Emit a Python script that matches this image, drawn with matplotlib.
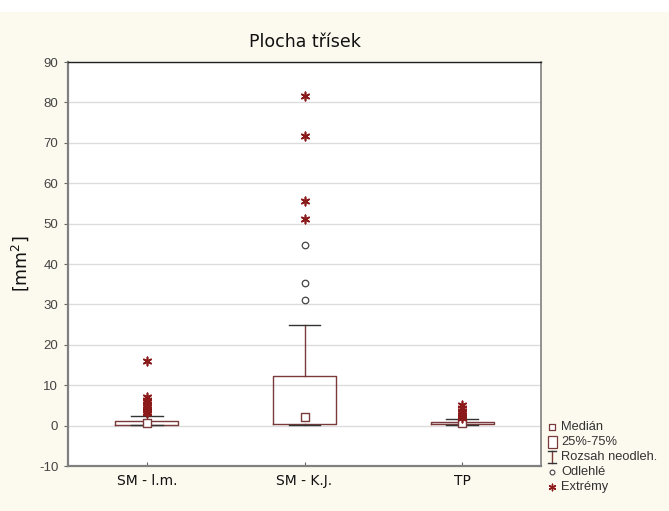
import matplotlib
matplotlib.use("Agg")
import matplotlib.pyplot as plt
from matplotlib.patches import Rectangle

# Box-plot summary per group
categories = ["SM - l.m.", "SM - K.J.", "TP"]
medians = [0.6, 2.2, 0.6]
q1 = [0.25, 0.4, 0.3]
q3 = [1.2, 12.3, 1.0]
whisk_lo = [0.05, 0.2, 0.05]
whisk_hi = [2.3, 24.8, 1.6]
outliers = [[], [31.0, 35.2, 44.7], []]
extremes = [
    [16.0, 7.0, 6.4, 5.8, 5.2, 4.7, 4.2, 3.8, 3.4, 3.0],
    [51.2, 55.7, 71.6, 81.6],
    [5.0, 4.3, 3.7, 3.2, 2.7, 2.3, 1.9],
]
yticks = list(range(-10, 91, 10))

box_col = "#7a3a3a"
star_col = "#8b1a1a"
cream = "#fcf9ef"

fig = plt.figure(figsize=(6.69, 5.11), dpi=100, facecolor="white")
fig.patches.append(Rectangle((0, 0), 1, 1 - 12 / 511, transform=fig.transFigure,
                             facecolor=cream, edgecolor="none", zorder=-10))

ax = fig.add_axes([68 / 669, 45 / 511, 473 / 669, 404 / 511])
ax.set_facecolor("white")

positions = [0.5, 1.5, 2.5]
stats = []
for i, c in enumerate(categories):
    stats.append(dict(label=c, med=medians[i], q1=q1[i], q3=q3[i],
                      whislo=whisk_lo[i], whishi=whisk_hi[i], fliers=[]))
ax.bxp(stats, positions=positions, widths=0.4, showfliers=False,
       boxprops=dict(color=box_col, linewidth=1.0),
       whiskerprops=dict(color=box_col, linewidth=1.0),
       capprops=dict(color="#333333", linewidth=1.0),
       medianprops=dict(linewidth=0), capwidths=0.2, zorder=3)

# median markers
ax.scatter(positions, medians, marker="s", s=26, facecolor="white",
           edgecolor=box_col, linewidth=1.0, zorder=4)

for p, vals in zip(positions, outliers):
    if vals:
        ax.scatter([p] * len(vals), vals, marker="o", s=22, facecolor="white",
                   edgecolor="#444444", linewidth=0.9, zorder=4)
for p, vals in zip(positions, extremes):
    ax.scatter([p] * len(vals), vals, marker=(6, 2, 0), s=36,
               color=star_col, linewidth=1.2, zorder=4)

ax.set_xlim(0, 3)
ax.set_ylim(-10, 90)
ax.set_yticks(yticks)
ax.set_yticklabels([str(v) for v in yticks], family="Liberation Sans",
                   fontsize=9.5, color="#444444")
ax.set_xticks(positions)
ax.set_xticklabels(categories, fontsize=10, color="#111111")
ax.tick_params(axis="y", direction="out", length=3, color="#666666", pad=4)
ax.tick_params(axis="x", direction="in", length=3, color="#666666", pad=6)
ax.yaxis.grid(True, color="#dcdcdc", linewidth=1.0, zorder=0)
ax.set_axisbelow(True)

for side in ["left", "bottom"]:
    ax.spines[side].set_color("#808080")
    ax.spines[side].set_linewidth(1.6)
ax.spines["top"].set_color("#222222")
ax.spines["top"].set_linewidth(1.0)
ax.spines["right"].set_color("#808080")
ax.spines["right"].set_linewidth(1.2)

ax.set_title("Plocha třísek", fontsize=12.5, pad=11, color="#111111")
ax.set_ylabel("[mm$^2$]", fontsize=12.5, labelpad=6, color="#111111")

# Legend drawn beside the plot
lx = 552 / 669
labels = ["Medián", "25%-75%", "Rozsah neodleh.", "Odlehlé", "Extrémy"]
ys = [427, 442, 457, 472, 487]
for lab, yp in zip(labels, ys):
    fig.text(lx + 9 / 669, 1 - yp / 511, lab, fontsize=9.3, family="Liberation Sans",
             color="#333333", va="center", ha="left")
lax = fig.add_axes([0, 0, 1, 1], facecolor="none")
lax.set_xlim(0, 669)
lax.set_ylim(511, 0)
lax.axis("off")
lax.scatter([552], [427], marker="s", s=16, facecolor="white", edgecolor=box_col, linewidth=0.9)
lax.add_patch(Rectangle((547.5, 436), 9, 12, facecolor="white", edgecolor=box_col, linewidth=0.9))
lax.plot([552, 552], [451, 463], color=box_col, linewidth=1.0)
lax.plot([548, 556], [451, 451], color="#333333", linewidth=1.0)
lax.plot([548, 556], [463, 463], color="#333333", linewidth=1.0)
lax.scatter([552], [472], marker="o", s=12, facecolor="white", edgecolor="#444444", linewidth=0.8)
lax.scatter([552], [487], marker=(6, 2, 0), s=22, color=star_col, linewidth=1.0)

fig.savefig("out.png", dpi=100, facecolor=fig.get_facecolor())
